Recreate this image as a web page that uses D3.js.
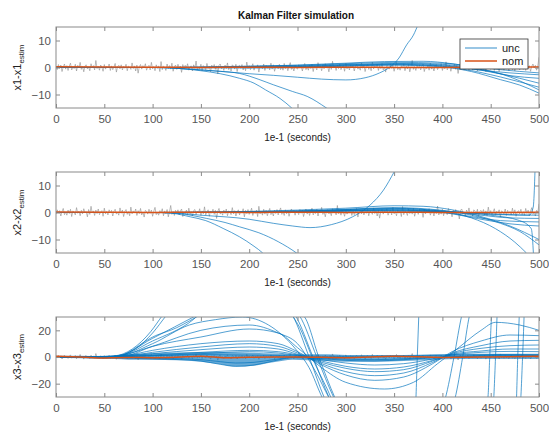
<!DOCTYPE html>
<html>
<head>
<meta charset="utf-8">
<script src="https://cdn.jsdelivr.net/npm/d3@7"></script>
<style>
  body { margin: 0; background: #fff; }
  svg { font-family: "Liberation Sans", Arial, sans-serif; }
  .tick text { fill: #555; font-size: 11.5px; }
  .tick line { stroke: #8a8a8a; }
</style>
</head>
<body>
<div id="chart"></div>
<script>

// ---- data ----
var xTicks = [0, 50, 100, 150, 200, 250, 300, 350, 400, 450, 500];
var yTicks12 = [-10, 0, 10];
var yTicks3 = [-20, 0, 20];
var noiseStep = 1.25; // sample spacing of the gray measurement noise

var noiseA = [
  0.4,-0.8,1.1,-0.3,0.9,-1.5,0.2,1.3,-0.6,0.7,
  -1.1,0.5,1.6,-0.9,0.1,-0.4,1.2,-1.3,0.8,-0.2,
  1.9,-0.7,0.3,-1.6,0.6,1.0,-0.5,0.2,-1.2,1.4,
  -0.1,0.7,-0.9,2.6,-0.4,0.5,-1.0,0.9,0.1,-1.4,
  1.1,-0.6,0.4,-0.2,1.3,-1.1,0.6,-0.8,0.2,1.5,
  -1.7,0.3,0.8,-0.5,1.0,-0.9,0.4,-0.3,1.2,-1.2,
  0.5,0.1,-0.7,1.7,-0.4,0.6,-1.3,0.9,-2.1,0.3,
  1.1,-0.6,0.7,-0.2,1.4,-1.0,0.2,0.8,-0.9,1.9,
  -0.5,0.4,-1.2,1.0,-0.3,0.6,-1.5,2.2,-0.8,0.5,
  0.1,-1.1,1.3,-0.4,0.7,-0.6,1.6,-1.4,0.3,0.9,
  -0.7,1.2,-0.2,0.5,-1.8,1.1,-0.5,0.8,-0.1,1.4,
  -1.0,0.3,0.6,-1.3,1.0,-0.4,2.4,-0.9,0.2,-0.6,
  1.2,-1.2,0.7,0.1,-0.8,1.5,-0.3,0.4,-1.6,0.9,
  -0.2,1.1,-0.7,0.6,-2.4,0.8,1.3,-0.5,0.2,-1.1,
  0.9,-0.4,1.7,-0.8,0.3,-1.3,1.0,0.5,-0.6,1.2,
  -1.5,0.4,0.8,-0.3,1.1,-0.9,0.6,-1.2,2.0,-0.4,
  0.7,-0.8,0.2,1.4,-1.0,0.5,-0.2,1.0,-1.7,0.6,
  0.3,-0.5,1.3,-1.1,0.8,-0.3,0.4,-0.9,1.6,-0.6,
  1.0,-1.4,0.2,0.7,-0.5,1.2,-0.8,0.3,-1.0,1.5,
  -0.4,0.9,-1.2,0.5,1.8,-0.7,0.1,-1.3,0.8,-0.2
];

var noiseB = [
  -0.6,1.0,-0.2,0.7,-1.3,0.4,1.5,-0.8,0.2,-1.0,
  0.9,-0.4,1.2,-1.5,0.6,0.1,-0.9,1.8,-0.3,0.5,
  -1.2,0.8,-0.5,1.4,-0.1,0.3,-1.6,1.1,-0.7,2.3,
  -0.2,0.6,-1.1,0.9,-0.4,1.3,-0.8,0.2,0.7,-1.4,
  1.6,-0.5,0.4,-0.9,1.0,-0.2,0.8,-1.3,0.5,1.2,
  -0.6,0.1,-1.0,1.7,-0.3,0.9,-1.5,0.4,1.1,-0.7,
  0.3,-1.2,2.0,-0.5,0.6,-0.1,1.3,-1.1,0.7,-0.4,
  1.5,-0.9,0.2,-1.7,0.8,0.4,-0.6,1.2,-0.3,0.9,
  -1.4,0.5,1.9,-0.8,0.1,-1.0,0.7,-0.2,1.4,-1.2,
  0.6,-0.5,1.1,-1.6,0.3,2.6,-0.7,0.4,-1.1,0.8,
  -0.3,1.0,-0.9,0.5,1.3,-1.5,0.2,-0.4,0.9,-1.0,
  1.6,-0.6,0.3,-1.3,0.7,1.1,-0.8,0.4,-0.2,1.4,
  -1.1,0.6,-0.5,2.1,-0.9,0.2,1.0,-1.4,0.5,-0.3,
  1.2,-0.7,0.8,-2.2,0.4,1.5,-0.6,0.1,-1.0,0.9,
  -0.4,1.3,-1.2,0.6,0.2,-0.8,1.8,-0.5,0.7,-1.3,
  0.3,1.0,-0.9,0.5,-0.2,1.4,-1.6,0.8,-0.4,1.1,
  -0.7,0.2,1.6,-1.1,0.6,-0.3,0.9,-1.5,2.3,-0.5,
  0.4,-1.0,1.2,-0.6,0.8,-1.2,0.3,1.5,-0.8,0.1,
  -1.3,0.9,-0.4,1.1,-0.9,0.6,1.7,-0.7,0.2,-1.1,
  1.0,-0.5,0.7,-1.4,0.4,1.3,-0.2,0.8,-1.0,0.5,
  3.8
];

// "unc" runs, x1 error  [time, value]
var unc1 = [
  [[0,0],[100,0],[125,-0.3],[150,-1.2],[170,-2.3],[190,-4],[205,-5.8],[217,-8.3],[232,-11.5],[244,-15],[255,-19]],
  [[0,0],[110,0],[130,-0.4],[150,-0.9],[170,-1.4],[190,-2.2],[210,-4.4],[225,-6.4],[245,-8.9],[260,-10.7],[280,-15],[290,-17.5]],
  [[0,0],[100,0],[150,-0.9],[200,-2.3],[225,-2.9],[250,-3.6],[275,-4.3],[300,-4.6],[320,-3.8],[335,-2],[345,0],[355,3.5],[363,8.4],[370,12],[375,16],[380,20]],
  [[0,0],[100,0],[150,0.2],[200,0.5],[250,0.8],[300,1.4],[350,1.9],[400,1.6],[430,0.5],[460,-0.8],[500,-2]],
  [[0,0],[120,0],[200,0.3],[250,0.6],[300,1.1],[350,1.5],[400,0.9],[440,-1],[470,-3],[500,-4]],
  [[0,0],[130,0],[200,0.1],[250,0.3],[300,0.8],[350,1.2],[390,0.8],[420,-0.5],[460,-3.5],[500,-7.3]],
  [[0,0],[140,0],[200,0.4],[250,0.9],[300,1.6],[340,2.2],[380,2.3],[410,1.4],[440,-0.5],[470,-3.5],[500,-8.3]],
  [[0,0],[110,0],[200,-0.2],[250,0],[300,0.5],[350,0.9],[400,0.2],[430,-1.5],[460,-4.5],[480,-6.5],[500,-9.5]],
  [[0,0],[150,0],[250,0.2],[300,0.6],[350,1],[400,0.6],[440,-1],[470,-2],[500,-2.7]],
  [[0,0],[150,0],[250,0.4],[300,1],[350,1.3],[380,1.4],[420,0.5],[450,-1.5],[480,-4],[500,-5.8]]
];

// "unc" runs, x2 error
var unc2 = [
  [[0,0],[100,0],[120,-0.3],[139,-1.6],[155,-3],[173,-5.9],[190,-9],[205,-12.5],[214,-15],[222,-18]],
  [[0,0],[110,0],[130,-0.5],[156,-2.2],[175,-3.7],[190,-5.3],[210,-7.5],[230,-10.8],[249,-15],[258,-17.5]],
  [[0,0],[110,0],[150,-1],[200,-2.5],[225,-4],[245,-5],[263,-5.6],[285,-4.5],[307,-1.6],[325,2.7],[339,8.3],[350,15],[356,19]],
  [[0,0],[100,0],[200,0.4],[250,0.9],[300,1.6],[350,2.5],[380,2.3],[410,1],[440,-1.5],[470,-5],[500,-10]],
  [[0,0],[110,0],[200,0.3],[250,0.6],[300,1.2],[350,1.8],[400,0.8],[430,-1],[460,-4],[480,-7],[500,-12]],
  [[0,0],[120,0],[250,0.3],[300,0.8],[350,1.2],[400,0.2],[430,-1.5],[460,-3],[500,-3.5]],
  [[0,0],[130,0],[250,0.5],[300,1],[350,1.5],[400,0.6],[440,-1],[470,-2],[500,-2.2]],
  [[0,0],[140,0],[250,0.2],[300,0.6],[350,0.9],[400,0],[440,-2.5],[470,-4.2],[500,-5]],
  [[0,0],[150,0],[250,0.1],[300,0.5],[350,0.7],[400,0.3],[440,-0.5],[470,-0.9],[500,-1]],
  [[0,0],[120,0],[250,0.4],[300,1.1],[350,1.6],[400,0.4],[430,-2],[455,-6],[475,-11],[487,-15],[495,-18]],
  [[0,0],[130,0],[250,0.2],[300,0.7],[350,1],[400,0.5],[440,-0.3],[470,-0.8],[490,-1],[494,2],[497,30]],
  [[0,0],[140,0],[300,0.6],[400,0.3],[450,-1],[480,-3],[492,-6],[496,-30]]
];

// "unc" runs, x3 error
var unc3 = [
  [[0,0],[50,0],[75,0.3],[100,1],[150,2.5],[200,4],[230,3],[250,1],[275,-2],[300,-4.5],[330,-6],[360,-5],[390,-1.5],[410,1.5],[440,3.5],[470,4.2],[500,4]],
  [[0,0],[50,0],[75,0.5],[100,1.5],[150,3.5],[200,5],[230,4],[250,1.5],[275,-3],[300,-7],[330,-9],[360,-7.5],[390,-2.5],[410,2],[440,4.5],[470,6],[500,6]],
  [[0,0],[50,0],[75,0.8],[100,2.5],[150,5.5],[200,7.5],[230,6],[250,2],[275,-4],[300,-8.5],[330,-11],[360,-9.5],[390,-3],[410,2.5],[440,6.5],[470,8.5],[500,9]],
  [[0,0],[50,0],[75,1],[100,3.5],[150,7.5],[200,10],[230,8],[250,3],[275,-5],[300,-11],[330,-14],[360,-12],[390,-4],[410,3],[440,8.5],[470,12],[500,12.5]],
  [[0,0],[50,0.3],[75,1.5],[100,5],[150,10],[200,12],[230,10],[250,4],[275,-6],[300,-13.5],[330,-17.5],[360,-15],[390,-5],[410,4],[440,12],[470,16.5],[500,16]],
  [[0,0],[50,0.5],[75,2.5],[100,8],[150,15],[200,21],[230,18],[250,7],[275,-8],[300,-19],[340,-24],[370,-19],[395,-5],[415,6],[440,20],[455,26],[480,24],[500,20]],
  [[0,0],[50,0],[60,0.5],[79,6],[98,19],[110,31],[125,45],[170,60],[215,50],[245,31],[262,0],[278,-31],[295,-55],[340,-70],[385,-55],[403,-31],[412,0],[420,31],[435,55],[500,80]],
  [[0,0],[55,0],[65,1],[82,6],[100,18],[114,31],[130,45],[175,58],[220,48],[248,31],[266,0],[283,-31],[300,-55],[350,-65],[395,-55],[413,-31],[421,0],[428,31],[440,50],[500,70]],
  [[0,0],[60,0],[103,16],[125,22],[138,27],[148,31],[165,38],[200,45],[235,40],[252,31],[270,0],[288,-31],[310,-55],[380,-70],[430,-60],[447,-31],[449,0],[451,31],[460,60]],
  [[0,0],[60,0],[100,10],[138,24],[165,28],[193,30],[220,24],[248,6],[262,-8],[276,-31],[300,-55],[400,-70],[452,-40],[455,0],[457,40]],
  [[0,0],[60,0],[100,14],[145,31],[170,40],[210,42],[240,35],[256,31],[272,0],[289,-31],[310,-60],[420,-80],[476,-40],[478,0],[480,40]],
  [[0,0],[60,0],[100,12],[142,28],[150,33],[200,40],[240,34],[250,25],[268,-5],[285,-31],[300,-60],[360,-90],[372,-40],[374,0],[376,40]],
  [[0,0],[65,0],[100,8],[150,20],[200,24],[230,18],[250,10],[268,-10],[283,-31],[300,-50],[420,-70],[480,-40],[483,0],[485,40]],
  [[0,0],[50,-0.5],[80,-1],[100,-1.5],[130,-2],[150,-3],[170,-5.5],[186,-7],[205,-6],[225,-3],[245,-0.5],[270,-1],[300,-2.5],[330,-3],[360,-2],[390,-0.5],[420,0.5],[460,1.5],[500,1]],
  [[0,0],[50,-0.3],[80,-0.6],[100,-1],[130,-1.3],[150,-2],[170,-3.5],[186,-4.5],[205,-4],[225,-2],[245,-0.3],[270,-0.6],[300,-1.6],[330,-2],[360,-1.3],[390,-0.3],[420,0.3],[460,1],[500,0.7]],
  [[0,0],[50,0.2],[80,0.6],[100,1],[130,1.4],[150,1.8],[186,1.5],[225,1.2],[250,0.8],[300,0.5],[350,0.8],[400,1.2],[450,1.8],[500,1.8]]
];

// dense noisy envelope of the x3 runs
var bandT  = [0, 25, 50, 60, 75, 100, 125, 150, 170, 186, 205, 225, 245, 260, 280, 300, 330, 360, 390, 420, 450, 480, 500];
var bandHi = [1, 1, 0.8, 1.2, 2, 2.8, 3.3, 3.8, 3.8, 3.5, 3.2, 2.6, 2, 2, 2, 1.5, 1.5, 1.5, 2, 2.5, 2.5, 2.5, 2.5];
var bandLo = [-0.5, -1, -1.5, -1.5, -2, -2, -2.5, -3.5, -5.5, -7.2, -6.5, -4, -2, -2.5, -3, -3.5, -3.5, -3, -2, -1.5, -1.5, -1.5, -1.5];

// "nom" run
var nom1 = [[0,0.3],[50,0.2],[100,0.1],[150,0],[200,0.1],[250,0],[300,0.1],[350,0],[400,0],[450,0.1],[500,0.2]];
var nom2 = [[0,0.2],[50,0.1],[100,0],[150,0.1],[200,0],[250,0.1],[300,0],[350,0.1],[400,0],[450,0],[500,0.1]];
var nom3 = [[0,0.5],[25,0],[50,-0.8],[60,-0.5],[75,-0.3],[100,-0.5],[125,-0.2],[150,0.5],[175,-0.5],[200,-0.2],[225,0],[250,0],[300,-0.5],[350,0.5],[400,-0.3],[450,0],[500,0.5]];

var legendNames = ["unc", "nom"];

// ---- drawing ----
var W = 549, H = 433;
var left = 56, right = 539;
var blue = "#0072BD", orange = "#D95319";

var svg = d3.select("#chart").append("svg")
  .attr("width", W)
  .attr("height", H);

var x = d3.scaleLinear().domain([0, 500]).range([left, right]);

var panels = [
  { top: 27,  bottom: 108, domain: [-15, 15], ticks: yTicks12, name: "x1-x1", unc: unc1, nom: nom1, noise: noiseA.concat(noiseB) },
  { top: 172, bottom: 253, domain: [-15, 15], ticks: yTicks12, name: "x2-x2", unc: unc2, nom: nom2, noise: noiseB.slice(0, 200).concat(noiseA, [3.2]) },
  { top: 317, bottom: 397, domain: [-30, 30], ticks: yTicks3,  name: "x3-x3", unc: unc3, nom: nom3, noise: noiseA.concat(noiseB), band: true }
];

panels.forEach(function (p, idx) {

  var y = d3.scaleLinear().domain(p.domain).range([p.bottom, p.top]);

  svg.append("clipPath").attr("id", "clip" + idx)
    .append("rect")
    .attr("x", left).attr("y", p.top)
    .attr("width", right - left).attr("height", p.bottom - p.top);

  var g = svg.append("g").attr("clip-path", "url(#clip" + idx + ")");

  var noiseLine = d3.line()
    .x(function (d, i) { return x(i * noiseStep); })
    .y(function (d) { return y(d); });

  g.append("path")
    .datum(p.noise)
    .attr("d", noiseLine)
    .attr("fill", "none")
    .attr("stroke", "#8e8e8e")
    .attr("stroke-width", 0.6);

  if (p.band) {
    var bandData = bandT.map(function (t, i) { return [t, bandHi[i], bandLo[i]]; });
    var area = d3.area()
      .x(function (d) { return x(d[0]); })
      .y0(function (d) { return y(d[2]); })
      .y1(function (d) { return y(d[1]); })
      .curve(d3.curveMonotoneX);
    g.append("path")
      .datum(bandData)
      .attr("d", area)
      .attr("fill", blue)
      .attr("opacity", 0.6);
  }

  var line = d3.line()
    .x(function (d) { return x(d[0]); })
    .y(function (d) { return y(d[1]); })
    .curve(d3.curveMonotoneX);

  g.selectAll(".unc")
    .data(p.unc).enter()
    .append("path")
    .attr("class", "unc")
    .attr("d", line)
    .attr("fill", "none")
    .attr("stroke", blue)
    .attr("stroke-opacity", 0.85)
    .attr("stroke-width", 0.8);

  g.append("path")
    .datum(p.nom)
    .attr("d", line)
    .attr("fill", "none")
    .attr("stroke", orange)
    .attr("stroke-width", 1.5);

  // axes, MATLAB style: ticks inside on all four sides
  svg.append("g")
    .attr("transform", "translate(0," + p.bottom + ")")
    .call(d3.axisBottom(x).tickValues(xTicks).tickSize(-4).tickPadding(7))
    .call(function (a) { a.select(".domain").remove(); });

  svg.append("g")
    .attr("transform", "translate(0," + p.top + ")")
    .call(d3.axisTop(x).tickValues(xTicks).tickSize(-4).tickFormat(""))
    .call(function (a) { a.select(".domain").remove(); });

  svg.append("g")
    .attr("transform", "translate(" + left + ",0)")
    .call(d3.axisLeft(y).tickValues(p.ticks).tickSize(-4).tickPadding(5))
    .call(function (a) { a.select(".domain").remove(); });

  svg.append("g")
    .attr("transform", "translate(" + right + ",0)")
    .call(d3.axisRight(y).tickValues(p.ticks).tickSize(-4).tickFormat(""))
    .call(function (a) { a.select(".domain").remove(); });

  svg.append("rect")
    .attr("x", left).attr("y", p.top)
    .attr("width", right - left).attr("height", p.bottom - p.top)
    .attr("fill", "none")
    .attr("stroke", "#8a8a8a")
    .attr("stroke-width", 1);

  // axis labels
  svg.append("text")
    .attr("x", (left + right) / 2)
    .attr("y", p.bottom + 33)
    .attr("text-anchor", "middle")
    .attr("font-size", 10)
    .attr("fill", "#222")
    .text("1e-1 (seconds)");

  var yl = svg.append("text")
    .attr("transform", "translate(21," + ((p.top + p.bottom) / 2) + ") rotate(-90)")
    .attr("text-anchor", "middle")
    .attr("font-size", 11)
    .attr("fill", "#222");
  yl.append("tspan").text(p.name);
  yl.append("tspan").attr("dy", 3).attr("font-size", 8).text("estim");
});

svg.append("text")
  .attr("x", 296)
  .attr("y", 19)
  .attr("text-anchor", "middle")
  .attr("font-size", 10)
  .attr("font-weight", "bold")
  .attr("fill", "#111")
  .text("Kalman Filter simulation");

// legend
var lg = svg.append("g").attr("transform", "translate(460,39)");
lg.append("rect")
  .attr("width", 68).attr("height", 30)
  .attr("fill", "#fff")
  .attr("stroke", "#333")
  .attr("stroke-width", 0.8);

lg.selectAll(".lgline")
  .data(legendNames).enter()
  .append("line")
  .attr("x1", 5).attr("x2", 37)
  .attr("y1", function (d, i) { return 9 + i * 13; })
  .attr("y2", function (d, i) { return 9 + i * 13; })
  .attr("stroke", function (d, i) { return i === 0 ? blue : orange; })
  .attr("stroke-opacity", function (d, i) { return i === 0 ? 0.8 : 1; })
  .attr("stroke-width", function (d, i) { return i === 0 ? 1 : 1.5; });

lg.selectAll(".lgtext")
  .data(legendNames).enter()
  .append("text")
  .attr("x", 42)
  .attr("y", function (d, i) { return 13 + i * 13; })
  .attr("font-size", 11)
  .attr("fill", "#222")
  .text(function (d) { return d; });

</script>
</body>
</html>
